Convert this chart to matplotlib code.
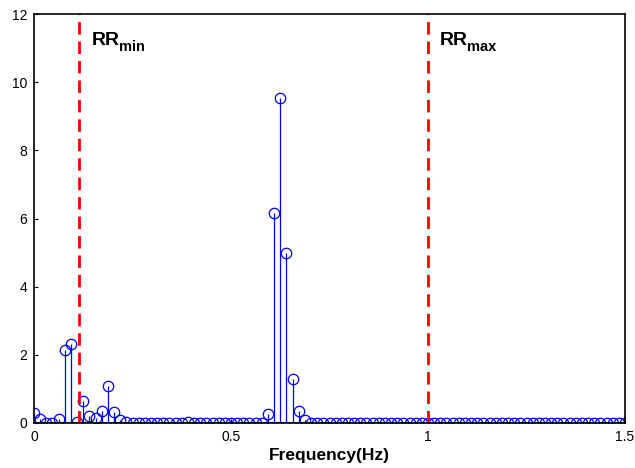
import numpy as np
import matplotlib.pyplot as plt
import matplotlib.transforms as mtransforms

plt.rcParams['font.family'] = ['Liberation Sans', 'DejaVu Sans']

# frequency bins (Hz), spacing 1/64
freq = np.arange(97) / 64.0
# spectrum magnitudes
low = [0.30, 0.13, 0.01, 0.01, 0.13, 2.15, 2.33, 0.03, 0.64, 0.21, 0.14, 0.35, 1.08,
       0.33, 0.10, 0.02, 0.01, 0.01, 0.01, 0.01, 0.01, 0.01, 0.01, 0.01, 0.01, 0.02,
       0.01, 0.01, 0.01, 0.01, 0.01, 0.01, 0.01, 0.01, 0.01, 0.01, 0.01, 0.01]
peak = [0.25, 6.15, 9.55, 5.00, 1.28, 0.35, 0.10]
tail = [0.01] * (97 - len(low) - len(peak))
power = np.array(low + peak + tail)

rr_min = 0.115
rr_max = 1.0

fig = plt.figure(figsize=(6.35, 4.68), dpi=100)
ax = fig.add_axes([34/635, 1 - 423/468, (625-34)/635, (423-14)/468])

ml, sl, bl = ax.stem(freq, power, linefmt='-', markerfmt='o', basefmt='k-')
plt.setp(sl, color='#0000ff', linewidth=0.9)
plt.setp(ml, markerfacecolor='none', markeredgecolor='#0000ff', markersize=7.5, markeredgewidth=0.9)
plt.setp(bl, color='k', linewidth=1.2)

ax.plot([rr_min, rr_min], [0, 12], color='red', linestyle=(0, (4.5, 2.5)), linewidth=2)
ax.plot([rr_max, rr_max], [0, 12], color='red', linestyle=(0, (4.5, 2.5)), linewidth=2)

# labels with a lowered subscript
for xpos, sub in [(0.147, 'min'), (1.031, 'max')]:
    ax.text(xpos, 11.1, 'RR', fontsize=14, fontweight='bold', va='baseline', ha='left')
    off = mtransforms.ScaledTranslation(19.5/72, -4.5/72, fig.dpi_scale_trans)
    ax.text(xpos, 11.1, sub, fontsize=10.5, fontweight='bold', va='baseline', ha='left',
            transform=ax.transData + off)

ax.set_xlim(0, 1.5)
ax.set_ylim(0, 12)
ax.set_xticks([0, 0.5, 1, 1.5])
ax.set_xticklabels(['0', '0.5', '1', '1.5'])
ax.set_yticks(range(0, 13, 2))
ax.tick_params(direction='in', length=3, labelsize=10, width=0.8, pad=5)
for s in ax.spines.values():
    s.set_linewidth(1.2)
ax.set_xlabel('Frequency(Hz)', fontsize=12.5, fontweight='bold', labelpad=3)

fig.savefig('out.png', dpi=100)
